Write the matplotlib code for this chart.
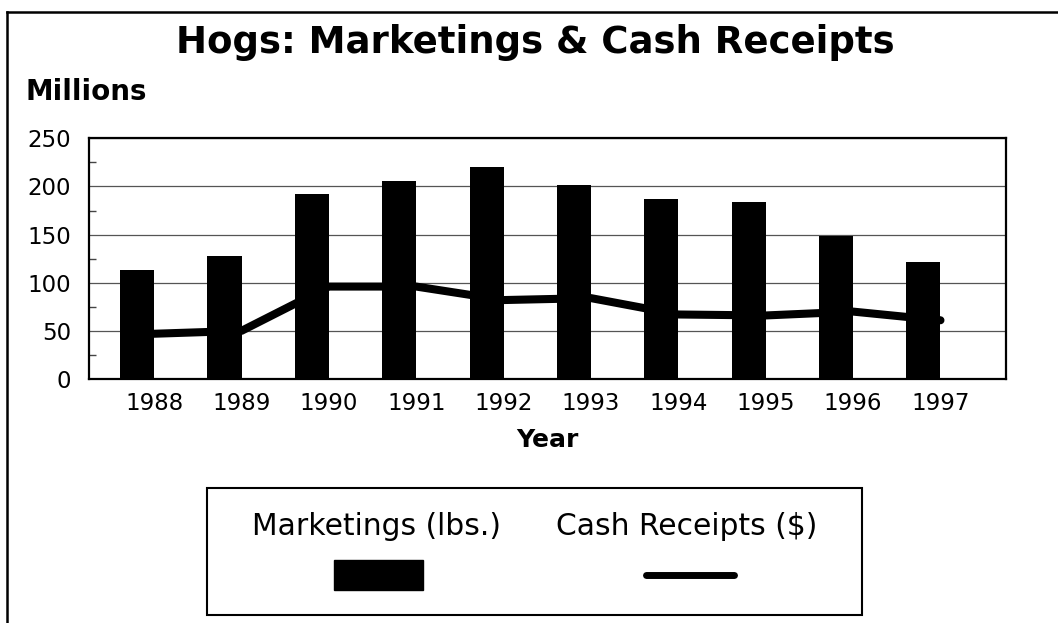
import matplotlib
matplotlib.use("Agg")
import matplotlib.pyplot as plt
import numpy as np
from matplotlib.patches import Rectangle
from matplotlib.lines import Line2D

years = ["1988", "1989", "1990", "1991", "1992", "1993", "1994", "1995", "1996", "1997"]
marketings = [113, 128, 192, 206, 220, 201, 187, 184, 149, 122]
cash_receipts = [47, 50, 96, 96, 82, 84, 67, 66, 70, 61]
yticks = [0, 50, 100, 150, 200, 250]

plt.rcParams['font.family'] = ['DejaVu Sans']

W, H = 1058, 623
fig = plt.figure(figsize=(W / 100, H / 100), dpi=100)
fig.patch.set_facecolor('white')


def fx(px):
    return px / W


def fy(py):
    return (H - py) / H


ax = fig.add_axes([fx(88.6), fy(379), fx(1006) - fx(88.6), fy(138.3) - fy(379)])

x = np.arange(len(years))
bw = 0.39
ax.bar(x - bw / 2, marketings, width=bw, color='black', zorder=2)
ax.plot(x, cash_receipts, color='black', lw=5.8, solid_capstyle='round',
        solid_joinstyle='round', zorder=3)

ax.set_xlim(-0.75, len(years) - 0.25)
ax.set_ylim(0, 250)
ax.set_yticks(yticks)
ax.set_yticks(np.arange(25, 250, 50), minor=True)
ax.set_xticks(x)
ax.set_xticklabels(years)
ax.tick_params(axis='both', which='major', length=0, labelsize=16.5, colors='black')
ax.tick_params(axis='y', which='major', pad=12.5)
ax.tick_params(axis='x', which='major', pad=9.5)
ax.tick_params(axis='y', which='minor', direction='in', length=5, width=1, color='#444444')
ax.yaxis.grid(True, which='major', color='#555555', lw=0.9, zorder=1)
ax.set_axisbelow(True)
for sp in ax.spines.values():
    sp.set_linewidth(1.6)
    sp.set_color('black')

fig.text(fx(535.3), fy(53.3), "Hogs: Marketings & Cash Receipts", ha='center',
         va='baseline', fontsize=26.7, fontweight='bold')
fig.text(fx(25.4), fy(100), "Millions", ha='left', va='baseline', fontsize=20,
         fontweight='bold')
fig.text(fx(547), fy(447), "Year", ha='center', va='baseline', fontsize=18,
         fontweight='bold')

# legend box drawn by hand: labels above their keys
fig.add_artist(Rectangle((fx(207), fy(615)), fx(862) - fx(207), fy(488) - fy(615),
                         transform=fig.transFigure, fill=False, ec='black', lw=1.5))
fig.text(fx(376.5), fy(535), "Marketings (lbs.)", ha='center', va='baseline',
         fontsize=21.4)
fig.text(fx(686.5), fy(535), "Cash Receipts ($)", ha='center', va='baseline',
         fontsize=21.4)
fig.add_artist(Rectangle((fx(334), fy(590)), fx(423) - fx(334), fy(560) - fy(590),
                         transform=fig.transFigure, fc='black', ec='black'))
fig.add_artist(Line2D([fx(645.5), fx(733.5)], [fy(575), fy(575)],
                      transform=fig.transFigure, color='black', lw=5,
                      solid_capstyle='round'))

# scanned frame: top and left edges only
fig.add_artist(Line2D([fx(7), 1], [fy(12), fy(12)], transform=fig.transFigure,
                      color='black', lw=1.8))
fig.add_artist(Line2D([fx(7), fx(7)], [fy(12), 0], transform=fig.transFigure,
                      color='black', lw=1.8))

fig.savefig("out.png", dpi=100)
